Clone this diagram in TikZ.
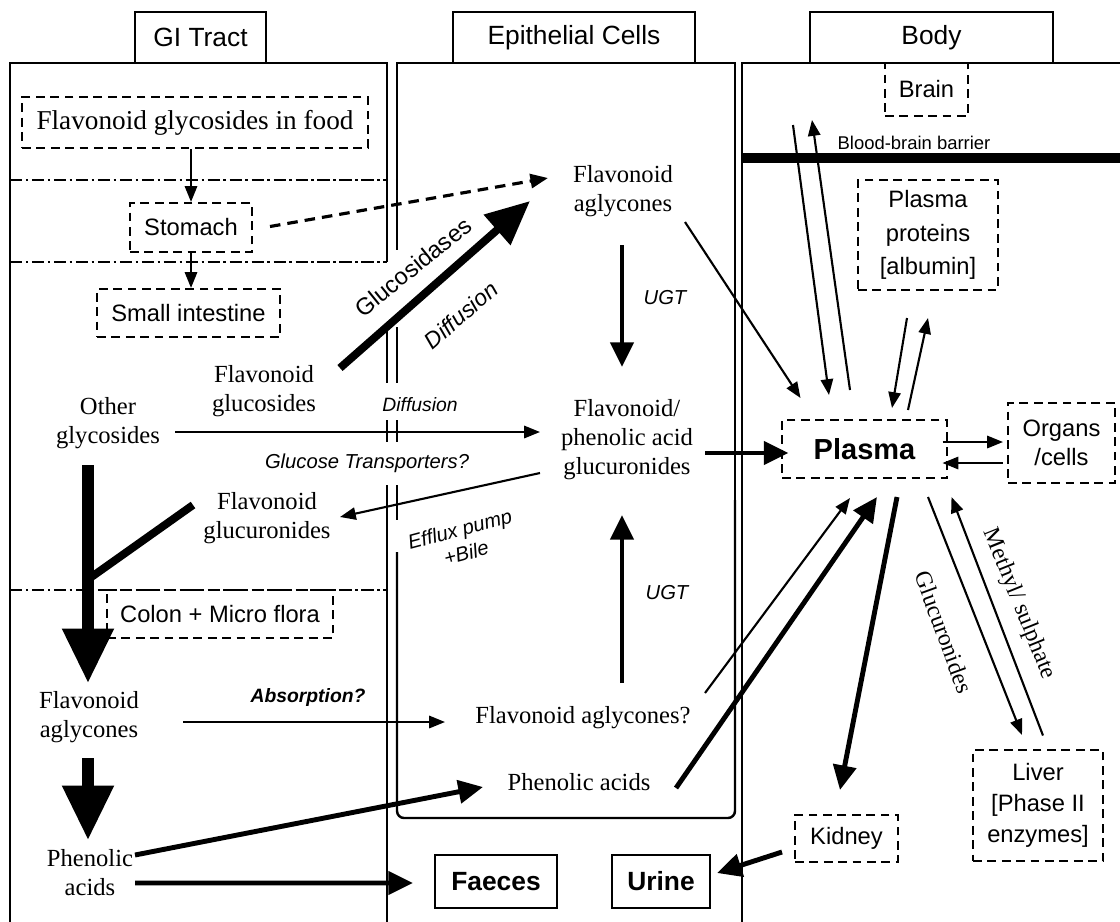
\documentclass[tikz,border=0pt]{standalone}
\usepackage{fontspec}
\setmainfont{Liberation Serif}
\setsansfont{Liberation Sans}
\usetikzlibrary{arrows.meta,calc}

\tikzset{
  panel/.style={line width=1.4pt},
  sections/.style={line width=1.2pt, dash pattern=on 7pt off 2pt on 1.5pt off 2pt},
  tab/.style={draw, line width=1.4pt, fill=white, inner sep=0pt,
    minimum width=#1, minimum height=1.02cm,
    font=\sffamily\fontsize{15}{18}\selectfont},
  compartment/.style={draw, line width=1.2pt, dash pattern=on 5pt off 3.2pt,
    align=center, inner sep=0pt, font=\sffamily\fontsize{13.5}{17.5}\selectfont},
  sink/.style={draw, line width=1.4pt, inner sep=0pt,
    font=\sffamily\bfseries\fontsize{15}{18}\selectfont},
  metab/.style={align=center, inner sep=1pt, font=\fontsize{14}{16.5}\selectfont},
  route/.style={inner sep=1pt, font=\sffamily\itshape\fontsize{11.5}{14}\selectfont},
  flow/.style={line width=1.2pt, -{Triangle[length=9pt,width=7pt]}},
  dashflow/.style={line width=1.8pt, dash pattern=on 6pt off 4pt, -{Triangle[length=10pt,width=8pt]}},
  thickflow/.style={line width=2.8pt, -{Triangle[length=14pt,width=13pt]}},
  bigflow/.style={line width=4.5pt, -{Triangle[length=25pt,width=22pt]}},
  hugeflow/.style={line width=6.3pt, -{Triangle[length=31pt,width=28pt]}},
}

\begin{document}
\begin{tikzpicture}[x=0.02cm, y=-0.02cm]
  \useasboundingbox (0,0) rectangle (1120,921);
  \clip (0,0) rectangle (1120,921);
  % Panels
  \draw[panel] (10,940) -- (10,63) -- (387,63) -- (387,262);
  \draw[panel] (387,327) -- (387,383);
  \draw[panel] (387,420) -- (387,442);
  \draw[panel] (387,485) -- (387,940);
  \draw[panel] (735,500) -- (735,63) -- (397,63) -- (397,250);
  \draw[panel, rounded corners=4pt] (397,552) -- (397,818) -- (735,818) -- (735,500);
  \draw[panel] (397,327) -- (397,383);
  \draw[panel] (397,420) -- (397,442);
  \draw[panel] (397,485) -- (397,520);
  \draw[panel] (742,940) -- (742,63) -- (1130,63);
  % GI Tract sections
  \draw[sections] (10,180) -- (387,180);
  \draw[sections] (10,262) -- (387,262);
  \draw[sections] (10,590) -- (387,590);
  % Blood-brain barrier
  \draw[line width=5.5pt] (742,158) -- (1130,158);
  \node[font=\sffamily\fontsize{10.5}{12}\selectfont] (bbb) at (914,143) {Blood-brain barrier}; %

  % Tabs
  \node[tab=2.62cm] (gitab) at (200.5,37.5) {GI Tract}; %
  \node[tab=4.84cm] (eptab) at (574,37.5) {Epithelial Cells}; %
  \node[tab=4.86cm] (bodytab) at (931.5,37.5) {Body}; %

  % Compartments
  \node[compartment, font=\fontsize{15.5}{18}\selectfont, minimum width=6.92cm, minimum height=1.02cm] (food) at (195,122.5) {Flavonoid glycosides in food}; %
  \node[compartment, minimum width=2.44cm, minimum height=0.98cm] (stomach) at (191,227.5) {Stomach}; %
  \node[compartment, minimum width=3.66cm, minimum height=0.96cm] (smallint) at (188.5,313) {Small intestine}; %
  \node[compartment, minimum width=4.52cm, minimum height=0.96cm] (colon) at (220,614) {Colon + Micro flora}; %
  \node[compartment, minimum width=1.66cm, minimum height=1.06cm] (brain) at (926.5,89.5) {Brain}; %
  \node[compartment, minimum width=2.8cm, minimum height=2.2cm, font=\sffamily\fontsize{13.5}{19}\selectfont] (proteins) at (928,235) {Plasma\\proteins\\{}[albumin]}; %
  \node[compartment, minimum width=3.3cm, minimum height=1.16cm, font=\sffamily\bfseries\fontsize{16.5}{20}\selectfont] (plasma) at (864.5,449) {Plasma}; %
  \node[compartment, minimum width=2.14cm, minimum height=1.6cm, font=\sffamily\fontsize{13.5}{16.5}\selectfont] (organs) at (1061.5,443) {Organs\\/cells}; %
  \node[compartment, minimum width=2.06cm, minimum height=0.94cm] (kidney) at (846.5,838.5) {Kidney}; %
  \node[compartment, minimum width=2.6cm, minimum height=2.22cm] (liver) at (1038,805.5) {Liver\\{}[Phase II\\enzymes]}; %
  \node[sink, minimum width=2.44cm, minimum height=1.06cm] (faeces) at (496,881.5) {Faeces}; %
  \node[sink, minimum width=1.96cm, minimum height=1.06cm] (urine) at (661,881.5) {Urine}; %

  % Metabolites
  \node[metab] (aglyE) at (623,191) {Flavonoid\\aglycones}; %
  \node[metab] (glucE) at (627,440) {Flavonoid/\\phenolic acid\\glucuronides}; %
  \node[metab] (aglyQ) at (583,718) {Flavonoid aglycones?}; %
  \node[metab] (phenE) at (579,782) {Phenolic acids}; %
  \node[metab] (glucosides) at (264,391) {Flavonoid\\glucosides}; %
  \node[metab] (otherg) at (108,423) {Other\\glycosides}; %
  \node[metab] (glucuronG) at (267,518) {Flavonoid\\glucuronides}; %
  \node[metab] (aglyG) at (89,717) {Flavonoid\\aglycones}; %
  \node[metab] (phenG) at (90,873) {Phenolic\\acids}; %

  % Route labels
  \node[route] (ugtdown) at (665,298) {UGT}; %
  \node[route] (ugtup) at (667,593) {UGT}; %
  \node[route, font=\sffamily\itshape\fontsize{11}{13}\selectfont] (diffh) at (420,405) {Diffusion}; %
  \node[route] (transp) at (367,463) {Glucose Transporters?}; %
  \node[route, align=center, rotate=15] (efflux) at (463,541) {Efflux pump\\+Bile}; %
  \node[inner sep=1pt, font=\sffamily\fontsize{13.5}{16}\selectfont, rotate=39] (glucosidase) at (413,267) {Glucosidases}; %
  \node[inner sep=1pt, font=\sffamily\itshape\fontsize{13}{16}\selectfont, rotate=41] (diffd) at (461,315) {Diffusion}; %
  \node[route, font=\sffamily\itshape\bfseries\fontsize{11}{13}\selectfont] (absorb) at (308,697) {Absorption?}; %
  \node[inner sep=1pt, font=\fontsize{13.5}{16}\selectfont, rotate=-70] (glucroute) at (944,632) {Glucuronides}; %
  \node[inner sep=1pt, font=\fontsize{13.5}{16}\selectfont, rotate=-68] (methyl) at (1019,604) {Methyl/ sulphate}; %

  % GI Tract flows
  \draw[flow] (food.south -| stomach) -- (stomach); %
  \draw[flow] (stomach.south) -- (stomach.south |- smallint.north); %
  \coordinate (merge) at (90,578); %
  \draw[line width=4.5pt] ($(glucuronG)+(-74,-13)$) -- (merge); %
  \draw[hugeflow] ($(otherg)+(-20,42)$) -- ($(aglyG)+(-1,-34)$); %
  \draw[hugeflow] ($(aglyG)+(-1,41)$) -- ($(phenG)+(-2,-33)$); %

  % Into and out of the epithelial cells
  \draw[dashflow] ($(stomach)+(79,-1)$) -- ($(aglyE)+(-75,-13)$); %
  \draw[bigflow] ($(glucosides)+(76,-23)$) -- ($(aglyE)+(-93,10)$); %
  \draw[flow] ($(otherg)+(67,9)$) -- ($(glucE)+(-87,-8)$); %
  \draw[flow] ($(glucE)+(-87,33)$) -- ($(glucuronG)+(73,-1)$); %
  \draw[flow] ($(aglyG)+(94,5)$) -- ($(aglyQ)+(-138,4)$); %
  \draw[thickflow] ($(phenG)+(45,-18)$) -- ($(phenE)+(-96,5)$); %
  \draw[thickflow] ($(phenG)+(45,10)$) -- ($(faeces)+(-83,1.5)$); %
  \draw[thickflow] ($(aglyE)+(-1,54)$) -- ($(glucE)+(-5,-73)$); %
  \draw[thickflow] ($(aglyQ)+(39,-35)$) -- ($(glucE)+(-5,75)$); %

  % Into the body
  \draw[thickflow] ($(glucE)+(78,13)$) -- ($(plasma)+(-76,4)$); %
  \draw[flow] ($(aglyE)+(62,31)$) -- ($(plasma)+(-64,-51)$); %
  \draw[flow] ($(aglyQ)+(122,-25)$) -- ($(plasma)+(-14.5,49)$); %
  \draw[thickflow] ($(phenE)+(97,6)$) -- ($(plasma)+(12.5,48)$); %
  \draw[flow] ($(brain)+(-133.5,35.5)$) -- ($(plasma)+(-35.5,-54)$); %
  \draw[flow] ($(plasma)+(-14.5,-59)$) -- ($(brain)+(-114.5,30.5)$); %
  \draw[flow] ($(proteins)+(-21,83)$) -- ($(plasma)+(27.5,-41)$); %
  \draw[flow] ($(plasma)+(43.5,-39)$) -- ($(proteins)+(0,83)$); %
  \draw[flow] ($(plasma)+(78,-7)$) -- ($(organs)+(-58.5,-1)$); %
  \draw[flow] ($(organs)+(-58.5,20)$) -- ($(plasma)+(78,14)$); %
  \draw[thickflow] ($(plasma)+(32.5,48)$) -- ($(kidney)+(-6.5,-48.5)$); %
  \draw[flow] ($(plasma)+(63.5,48)$) -- ($(liver)+(-16,-70.5)$); %
  \draw[flow] ($(liver)+(5,-70)$) -- ($(plasma)+(87,48)$); %
  \draw[thickflow] ($(kidney)+(-64.5,13.5)$) -- ($(urine)+(56,-8.5)$); %
\end{tikzpicture}
\end{document}
